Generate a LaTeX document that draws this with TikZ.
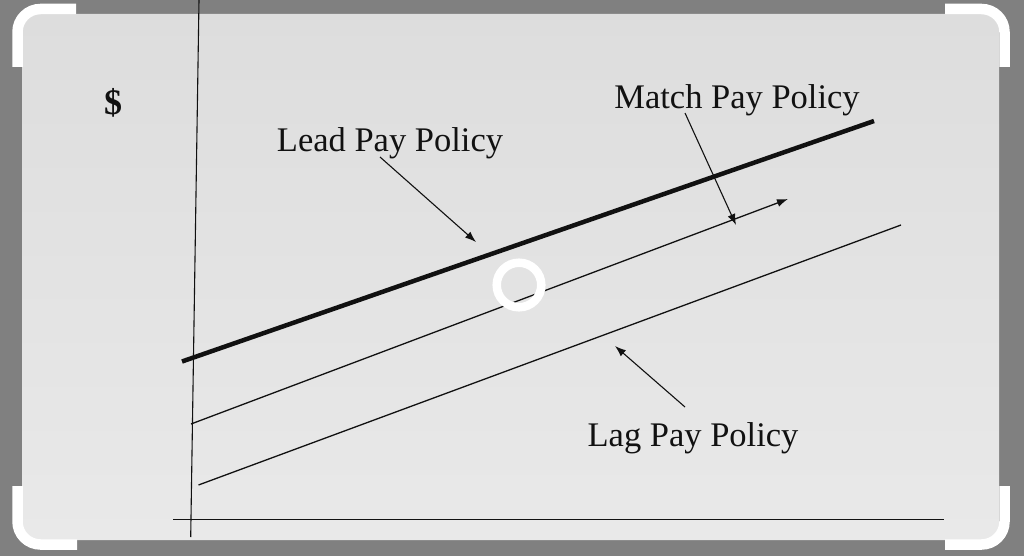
\documentclass[tikz,border=0pt]{standalone}
\usepackage{fontspec}
\setmainfont{Liberation Serif}
\usetikzlibrary{arrows.meta}
\definecolor{outergray}{HTML}{808080}
\definecolor{panelA}{HTML}{DDDDDD}
\definecolor{panelB}{HTML}{E9E9E9}
\definecolor{ink}{HTML}{111111}
\tikzset{
  thinline/.style={draw=ink, line width=1.3pt},
  axisline/.style={draw=ink, line width=1.1pt},
  leadline/.style={draw=ink, line width=4.5pt},
  pointer/.style={draw=ink, line width=1.1pt, -{Latex[length=11pt,width=8pt]}},
  lbl/.style={text=ink, font=\fontsize{34.5}{40}\selectfont, inner sep=0pt},
  bracket/.style={draw=white, line width=10.5pt, line cap=butt, rounded corners=23pt},
}
\begin{document}
\begin{tikzpicture}[x=1pt,y=-1pt]
\useasboundingbox (0,0) rectangle (1024,556);
\fill[outergray] (0,0) rectangle (1024,556);
\shade[top color=panelA, bottom color=panelB, rounded corners=15pt] (22,14) rectangle (999,540);
% corner brackets
\draw[bracket] (17.5,67) -- (17.5,9) -- (76,9);
\draw[bracket] (945,9) -- (1004.5,9) -- (1004.5,67);
\draw[bracket] (17.5,486) -- (17.5,544.5) -- (77,544.5);
\draw[bracket] (945,544.5) -- (1004.5,544.5) -- (1004.5,486);
% axes
\coordinate (ytop) at (199,0);
\coordinate (ybot) at (190.7,537);
\coordinate (xl) at (173,519.3);
\coordinate (xr) at (944,519.3);
\draw[axisline] (ytop) -- (ybot);
\draw[axisline] (xl) -- (xr);
% policy lines
\coordinate (leadA) at (182,361.5);
\coordinate (leadB) at (874,121);
\coordinate (matchA) at (191,424);
\coordinate (matchB) at (788,199);
\coordinate (lagA) at (198.5,485);
\coordinate (lagB) at (901,225);
\draw[leadline] (leadA) -- (leadB);
\draw[thinline, -{Latex[length=11pt,width=8pt]}] (matchA) -- (matchB);
\draw[thinline] (lagA) -- (lagB);
% labels
\node[lbl, font=\fontsize{36}{40}\selectfont\bfseries] (dollar) at (113,103) {\$};
\node[lbl] (leadlbl) at (390,143) {Lead Pay Policy};
\node[lbl] (matchlbl) at (737,100) {Match Pay Policy};
\node[lbl] (laglbl) at (693,438) {Lag Pay Policy};
% pointers
\coordinate (leadtail) at (380,157);
\coordinate (leadtip) at (476,242);
\coordinate (matchtail) at (685,113);
\coordinate (matchtip) at (736,225);
\coordinate (lagtail) at (685,407);
\coordinate (lagtip) at (615,346);
\draw[pointer] (leadtail) -- (leadtip);
\draw[pointer] (matchtail) -- (matchtip);
\draw[pointer] (lagtail) -- (lagtip);
% white ring
\coordinate (ringc) at (519,285);
\draw[white, line width=8.5pt] (ringc) circle[radius=22.3];
\end{tikzpicture}
\end{document}
